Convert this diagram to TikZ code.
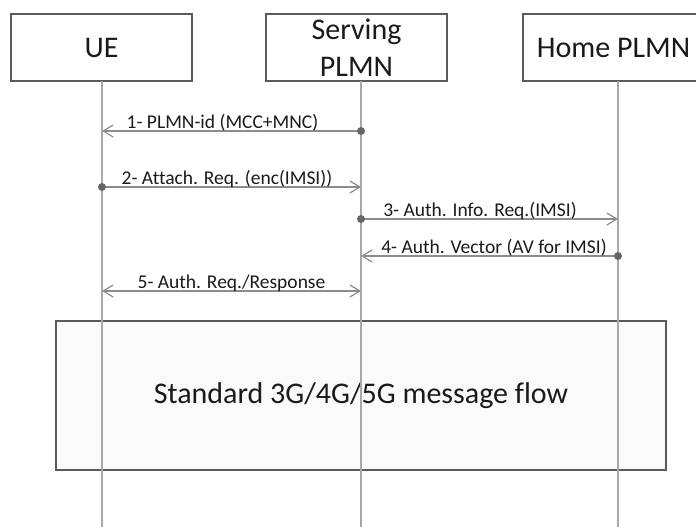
\documentclass[tikz,border=0pt]{standalone}
\usepackage{fontspec}
\setmainfont{Carlito}[Ligatures=NoCommon]
\usetikzlibrary{arrows.meta}

\definecolor{boxline}{HTML}{5A5A5A}
\definecolor{lifegray}{HTML}{A8A8A8}
\definecolor{msggray}{HTML}{8C8C8C}
\definecolor{dotgray}{HTML}{666666}
\definecolor{txt}{HTML}{1A1A1A}
\definecolor{flowfill}{HTML}{FAFAFA}

\tikzset{
	entity/.style={draw=boxline, line width=2.5pt, fill=white, inner sep=0pt,
		minimum width=181pt, minimum height=67pt, align=center, text=txt,
		font=\fontsize{30}{37}\selectfont},
	life/.style={draw=lifegray, line width=1.5pt},
	msg/.style={draw=msggray, line width=1.2pt},
	lbl/.style={anchor=base, yshift=3pt, inner sep=0pt, text=txt,
		font=\fontsize{19.5}{22}\selectfont},
	>={Straight Barb[length=10pt,width=12pt]}
}

\begin{document}
\begin{tikzpicture}[x=1pt, y=-1pt]
			\useasboundingbox (0,0) rectangle (696,527);
			\clip (0,0) rectangle (696,527);
			% entities
			\node [entity] (ue) at (101.5,47.5) {UE};
			\node [entity] (serving) at (356.5,47.5) {Serving\\PLMN};
			\node [entity] (home) at (613.5,47.5) {Home PLMN};
			\node [draw=boxline, line width=2.5pt, fill=flowfill, minimum width=610pt,
				minimum height=149pt, text=txt, font=\fontsize{30}{36}\selectfont]
				(flow) at (361,395.5) {Standard 3G/4G/5G message flow};
			% lifelines
			\coordinate (ueTop) at (102,81);
			\coordinate (ueEnd) at (102,527);
			\coordinate (srvTop) at (361,81);
			\coordinate (srvEnd) at (361,527);
			\coordinate (homeTop) at (618,81);
			\coordinate (homeEnd) at (618,527);
			\draw [life] (ueTop) -- (ueEnd);
			\draw [life] (srvTop) -- (srvEnd);
			\draw [life] (homeTop) -- (homeEnd);
			% messages
			\coordinate (ue1) at (102,131);
			\coordinate (srv1) at (361,131);
			\coordinate (ue2) at (102,187);
			\coordinate (srv2) at (361,187);
			\coordinate (srv3) at (361,219);
			\coordinate (home3) at (618,219);
			\coordinate (srv4) at (361,256);
			\coordinate (home4) at (618,256);
			\coordinate (ue5) at (102,291);
			\coordinate (srv5) at (361,291);
			\draw [msg,->] (srv1) -- (ue1) node [midway,lbl,xshift=-9pt] {1- PLMN-id (MCC+MNC)};
			\draw [msg,->] (ue2) -- (srv2) node [midway,lbl,xshift=-4.5pt] {2- Attach. Req. (enc(IMSI))};
			\draw [msg,->] (srv3) -- (home3) node [midway,lbl,xshift=-9.5pt] {3- Auth. Info. Req.(IMSI)};
			\draw [msg,->] (home4) -- (srv4) node [midway,lbl,xshift=4.5pt] {4- Auth. Vector (AV for IMSI)};
			\draw [msg,<->] (ue5) -- (srv5) node [midway,lbl] {5- Auth. Req./Response};
			% senders
			\fill [dotgray] (srv1) circle (4pt);
			\fill [dotgray] (ue2) circle (4pt);
			\fill [dotgray] (srv3) circle (4pt);
			\fill [dotgray] (home4) circle (4pt);
\end{tikzpicture}
\end{document}
